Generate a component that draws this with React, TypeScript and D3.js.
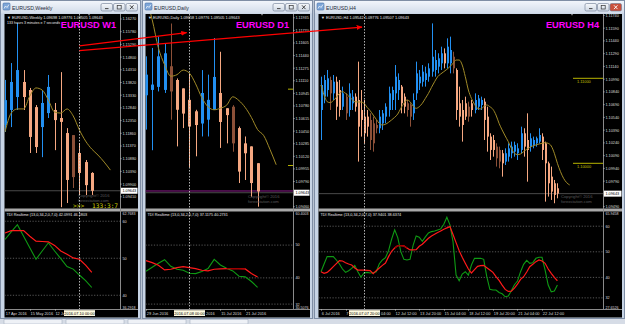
import React from "react";
import * as d3 from "d3";

// ================= DATA =================
// ---- W1 (weekly) ----
const w1Open = [1.1218, 1.1276, 1.1326, 1.1384, 1.1353, 1.1287, 1.121, 1.1264, 1.1276, 1.1245, 1.1187, 1.1179, 1.111, 1.1075, 1.1033];
const w1High = [1.1392, 1.1457, 1.1612, 1.143, 1.1361, 1.1295, 1.1353, 1.1411, 1.1303, 1.1422, 1.1206, 1.1179, 1.1148, 1.1083, 1.1036];
const w1Low = [1.1191, 1.121, 1.1276, 1.1276, 1.111, 1.111, 1.1094, 1.1245, 1.1121, 1.0901, 1.0917, 1.0975, 1.0948, 1.0948, 1.0948];
const w1Close = [1.1314, 1.1384, 1.143, 1.1326, 1.1172, 1.1133, 1.1303, 1.1365, 1.1237, 1.123, 1.1006, 1.1017, 1.1033, 1.0986, 1.0964];
const w1Ma = [1.1191, 1.1264, 1.128, 1.128, 1.133, 1.1361, 1.1353, 1.1314, 1.1268, 1.1264, 1.128, 1.1253, 1.1199, 1.1156, 1.1125, 1.1102, 1.1075, 1.1044];
const w1Dark = [11];
const w1Green = [55.07, 57.11, 59.07, 55.96, 52.84, 49.73, 51.96, 54.18, 51.96, 49.91, 47.78, 47.07, 45.47, 43.96, 42.1];
const w1Red = [56.84, 57.47, 57.47, 57.47, 55.96, 54.62, 54.53, 54.44, 53.47, 51.96, 51.07, 50.09, 49.73, 48.13, 46.18];
const w1PriceTicks = [1.1627, 1.1578, 1.1529, 1.148, 1.1431, 1.1382, 1.1333, 1.1284, 1.1235, 1.1186, 1.1137, 1.1088, 1.1039, 1.099, 1.0941, 1.0892];
const w1Levels = [60, 50, 40];
const w1Dates = [
  { i: 0, t: "17 Apr 2016" },
  { i: 4, t: "15 May 2016" },
  { i: 8, t: "12 Ju" },
];

// ---- D1 (daily) ----
const d1Open = [1.1092, 1.1099, 1.1103, 1.1099, 1.113, 1.1112, 1.1101, 1.1086, 1.1071, 1.1055, 1.106, 1.1073, 1.1095, 1.1075, 1.1077, 1.1049, 1.1029, 1.1025, 1.1003];
const d1High = [1.1143, 1.1154, 1.1169, 1.116, 1.1186, 1.1114, 1.1101, 1.1121, 1.1073, 1.1125, 1.1119, 1.1167, 1.1149, 1.1075, 1.1079, 1.1051, 1.1038, 1.1025, 1.1003];
const d1Low = [1.1047, 1.102, 1.1097, 1.1095, 1.106, 1.1025, 1.1049, 1.0998, 1.1012, 1.1038, 1.1038, 1.1073, 1.1023, 1.1029, 1.1018, 1.0977, 1.0981, 1.0959, 1.0946];
const d1Close = [1.1119, 1.1106, 1.1143, 1.1147, 1.1097, 1.1073, 1.1068, 1.1051, 1.1053, 1.1095, 1.1086, 1.1116, 1.1057, 1.1066, 1.1029, 1.0992, 1.1016, 1.0977, 1.0966];
const d1Ma = [1.1221, 1.1191, 1.1154, 1.1132, 1.1117, 1.1119, 1.1125, 1.1121, 1.1107, 1.1089, 1.1077, 1.1073, 1.1075, 1.1079, 1.109, 1.1085, 1.1076, 1.1063, 1.1047, 1.1039, 1.1021, 1.1001];
const d1Dark = [4, 14];
const d1Green = [42.02, 43.23, 44.44, 45.56, 43.54, 42.63, 42.32, 41.41, 41.31, 41.92, 42.83, 45.66, 43.94, 42.93, 42.12, 40.51, 40.3, 38.89, 37.12];
const d1Red = [45.25, 44.65, 43.84, 42.42, 42.63, 43.13, 43.43, 43.13, 42.83, 42.32, 42.12, 42.63, 42.73, 42.83, 42.83, 42.83, 42.73, 41.31, 40.27];
const d1RedDark = [13, 16];
const d1PriceTicks = [1.11935, 1.1177, 1.11605, 1.1144, 1.11275, 1.1111, 1.10945, 1.1078, 1.10615, 1.1045, 1.10285, 1.1012, 1.09955, 1.0979, 1.09625, 1.0946];
const d1Levels = [50, 40, 32];
const d1Dates = [
  { i: 0, t: "29 Jun 2016" },
  { i: 7, t: "2016", after: true },
  { i: 12, t: "15 Jul 2016" },
  { i: 16, t: "21 Jul 2016" },
];

// ---- H4 ----
const h4Open = [1.10627, 1.10784, 1.10862, 1.1098, 1.10823, 1.1096, 1.10862, 1.10666, 1.10784, 1.10627,
  1.10706, 1.10784, 1.10745, 1.10627, 1.10549, 1.10549, 1.1051, 1.1047, 1.10451, 1.10412,
  1.1047, 1.10549, 1.10627, 1.10745, 1.10823, 1.10862, 1.10902, 1.10784, 1.10706, 1.10686,
  1.10588, 1.10823, 1.10941, 1.1096, 1.1098, 1.11019, 1.11078, 1.11098, 1.11137, 1.11176,
  1.11294, 1.11176, 1.11176, 1.11254, 1.11098, 1.10706, 1.10627, 1.10706, 1.10666, 1.10706,
  1.10627, 1.10666, 1.10686, 1.10725, 1.10549, 1.10314, 1.10274, 1.10196, 1.10157, 1.10118,
  1.1002, 1.10078, 1.10118, 1.10137, 1.10118, 1.10157, 1.10353, 1.10274, 1.10196, 1.10216,
  1.10235, 1.10255, 1.10314, 1.10235, 1.1, 1.09843, 1.09765, 1.09706];
const h4High = [1.11019, 1.11039, 1.11098, 1.11019, 1.11039, 1.11019, 1.1098, 1.10902, 1.10823, 1.10941,
  1.10862, 1.10823, 1.11196, 1.10862, 1.10745, 1.10627, 1.10588, 1.10549, 1.1051, 1.10627,
  1.10627, 1.10706, 1.10902, 1.10902, 1.11156, 1.11058, 1.10921, 1.10823, 1.10745, 1.10706,
  1.10823, 1.11196, 1.11098, 1.11156, 1.11137, 1.11176, 1.11646, 1.11333, 1.11294, 1.11372,
  1.11352, 1.1147, 1.1149, 1.11313, 1.11117, 1.10902, 1.10745, 1.10784, 1.10725, 1.10745,
  1.10823, 1.10804, 1.10784, 1.10764, 1.10666, 1.10353, 1.10333, 1.10235, 1.10196, 1.10157,
  1.10176, 1.10235, 1.10255, 1.10255, 1.10235, 1.10431, 1.10412, 1.10588, 1.10353, 1.10314,
  1.10314, 1.10412, 1.10353, 1.10255, 1.1002, 1.09961, 1.09804, 1.09765];
const h4Low = [1.10274, 1.10706, 1.10784, 1.10627, 1.10745, 1.1051, 1.10549, 1.10627, 1.1051, 1.10549,
  1.10627, 1.10608, 1.1002, 1.10314, 1.10235, 1.10314, 1.10157, 1.10137, 1.10353, 1.10353,
  1.10392, 1.1047, 1.10549, 1.10627, 1.10627, 1.10745, 1.10588, 1.10588, 1.10549, 1.10431,
  1.1051, 1.10745, 1.10862, 1.10902, 1.10902, 1.1096, 1.11019, 1.11019, 1.11058, 1.11098,
  1.11117, 1.11117, 1.11058, 1.11058, 1.1051, 1.10431, 1.10255, 1.1051, 1.1049, 1.10549,
  1.10588, 1.10627, 1.10627, 1.10274, 1.10137, 1.10039, 1.10078, 1.09961, 1.09941, 1.09843,
  1.0998, 1.1002, 1.10059, 1.10078, 1.10039, 1.10118, 1.10078, 1.09784, 1.10137, 1.10176,
  1.10196, 1.10235, 1.10039, 1.09549, 1.09608, 1.09569, 1.0953, 1.09588];
const h4Close = [1.10921, 1.1098, 1.11, 1.10823, 1.1096, 1.10666, 1.10627, 1.10823, 1.10588, 1.10823,
  1.10784, 1.10666, 1.10431, 1.1051, 1.10353, 1.10431, 1.10274, 1.10235, 1.10412, 1.10549,
  1.10588, 1.10666, 1.10823, 1.10862, 1.11019, 1.1098, 1.10706, 1.10666, 1.10627, 1.10549,
  1.10745, 1.11058, 1.11019, 1.11078, 1.11058, 1.11117, 1.11254, 1.11215, 1.11235, 1.11294,
  1.11176, 1.11372, 1.11333, 1.11117, 1.10627, 1.10549, 1.10451, 1.10549, 1.10549, 1.10627,
  1.10745, 1.10764, 1.10745, 1.1051, 1.10314, 1.10157, 1.10157, 1.10059, 1.1002, 1.1,
  1.10118, 1.10176, 1.10196, 1.10216, 1.10176, 1.10353, 1.10196, 1.10157, 1.10294, 1.10274,
  1.10294, 1.10333, 1.10157, 1.1, 1.09765, 1.09667, 1.09628, 1.09643];
const h4Ma = [1.10921, 1.10804, 1.10725, 1.10713, 1.10737, 1.10776, 1.10823, 1.10843, 1.10823, 1.10792,
  1.10753, 1.10725, 1.10721, 1.10721, 1.10706, 1.10659, 1.10619, 1.10568, 1.10517, 1.1047,
  1.10451, 1.10459, 1.10482, 1.1051, 1.10541, 1.1058, 1.10647, 1.10706, 1.10745, 1.10725,
  1.10674, 1.10647, 1.10666, 1.10706, 1.10764, 1.10823, 1.10894, 1.1096, 1.11019, 1.11051,
  1.11078, 1.11105, 1.11137, 1.11176, 1.11215, 1.11215, 1.11156, 1.11019, 1.10862, 1.10764,
  1.10694, 1.10647, 1.10639, 1.10666, 1.10686, 1.10666, 1.10635, 1.10568, 1.1047, 1.10392,
  1.10321, 1.10255, 1.10176, 1.10118, 1.10102, 1.1011, 1.10137, 1.10165, 1.10188, 1.10204,
  1.10216, 1.10227, 1.10235, 1.10243, 1.10235, 1.10204, 1.10118, 1.1, 1.09902, 1.09824,
  1.09773, 1.09745];
const h4Dark = [3, 8, 16, 17, 18, 28, 29, 43, 48, 57, 58];
const h4Green = [42.23, 45.23, 48.11, 48.11, 48.11, 46.8, 45.23, 43.27, 41.97, 42.62,
  43.54, 44.71, 42.23, 40.14, 41.71, 41.97, 41.71, 41.84, 42.23, 45.36,
  46.8, 47.71, 50.46, 54.9, 58.56, 55.55, 50.07, 47.06, 46.8, 47.06,
  52.55, 56.21, 55.68, 54.12, 55.81, 57.38, 57.9, 58.16, 58.56, 58.95,
  60.78, 63.52, 60.52, 53.98, 40.92, 38.7, 41.31, 42.23, 40.92, 44.84,
  47.45, 47.45, 47.45, 47.06, 40.27, 35.31, 35.05, 35.05, 34.13, 33.61,
  32.43, 32.69, 34.78, 37.13, 38.57, 42.23, 45.1, 46.67, 45.5, 45.75,
  47.45, 47.85, 47.85, 42.88, 37.0, 34.39, 34.65, 37.0];
const h4Red = [42.23, 41.58, 41.97, 43.01, 44.19, 45.36, 46.54, 46.41, 45.75, 45.23,
  44.84, 43.67, 42.88, 42.88, 42.88, 42.75, 42.62, 41.44, 42.62, 43.67,
  44.71, 45.63, 48.11, 50.2, 51.5, 52.42, 52.42, 52.29, 51.5, 50.72,
  50.72, 50.85, 52.16, 52.94, 54.12, 55.29, 56.21, 56.86, 57.51, 58.16,
  58.82, 59.34, 59.86, 56.73, 53.59, 50.46, 47.85, 45.5, 43.27, 41.71,
  43.01, 44.32, 44.58, 44.71, 43.8, 42.88, 41.97, 40.27, 38.83, 37.0,
  35.31, 34.52, 34.65, 35.83, 37.4, 39.23, 40.27, 42.1, 44.19, 45.1,
  46.15, 46.8, 46.41, 45.5, 43.27, 41.58, 40.01, 38.7];
const h4RedDark = [24, 28];
const h4PriceTicks = [1.1174, 1.1159, 1.1144, 1.1129, 1.1114, 1.1099, 1.1084, 1.1069, 1.1054, 1.1039, 1.1024, 1.1009, 1.0994, 1.0979, 1.0964, 1.0949];
const h4Levels = [60, 50, 40, 32];
const h4Dates = [
  { i: 0, t: "6 Jul 2016" },
  { i: 8, t: "7" },
  { i: 14, t: "04:00", after: true },
  { i: 24, t: "12 Jul 12:00" },
  { i: 32, t: "13 Jul 20:00" },
  { i: 40, t: "15 Jul 04:00" },
  { i: 48, t: "18 Jul 12:00" },
  { i: 56, t: "19 Jul 20:00" },
  { i: 64, t: "21 Jul 04:00" },
  { i: 72, t: "22 Jul 12:00" },
];
const roundLevels = [1.11, 1.1];
const bidPrice = 1.09643;

// ================= STYLE / LAYOUT =================
const FONT = "'Liberation Sans', Arial, sans-serif";
const BULL = "#2290f2";
const BEAR = "#f6a882";
const DARK = "#8c5038";
const MA_COL = "#a08a28";
const TOP = 14;
const PB = 208.5;
const IT = 211.5;
const IB = 309;
const DB = 317.5;

function Candles({ o, h, l, c, x, y, bw, dark }: any) {
  return (
    <g>
      {o.map((_: number, i: number) => {
        const up = c[i] >= o[i];
        const col = dark.includes(i) ? DARK : up ? BULL : BEAR;
        const px = Math.round(x(i));
        const top = y(Math.max(o[i], c[i]));
        const bot = y(Math.min(o[i], c[i]));
        return (
          <g key={i}>
            <line x1={px + 0.5} x2={px + 0.5} y1={y(h[i])} y2={y(l[i])} stroke={col} strokeWidth={1} />
            <rect x={bw === 3 ? px - 1 : px} y={top} width={bw} height={Math.max(1, bot - top)} fill={col} />
          </g>
        );
      })}
    </g>
  );
}

function Frame({ x, w, title, closeRed }: any) {
  const bx = x + w - 40;
  return (
    <g>
      <rect x={x + 0.5} y={0.5} width={w - 1} height={318} fill="#c7d4e5" stroke="#7f8ea5" />
      <rect x={x + 1} y={1} width={w - 2} height={12.5} fill="url(#titleGrad)" />
      <rect x={x + 3} y={3} width={7} height={7} rx={1} fill="#7ea6d8" stroke="#4a72a8" strokeWidth={0.6} />
      <path d={`M${x + 4},8.5 L${x + 5.5},6 L${x + 7},7.5 L${x + 9},4.5`} stroke="#fff" fill="none" strokeWidth={0.7} />
      <text x={x + 12} y={9.6} fontSize={5.2} fill="#1e2b3c" fontFamily={FONT}>{title}</text>
      {[0, 1, 2].map((k) => (
        <rect key={k} x={bx + k * 12.5} y={3.5} width={11.5} height={7.5} rx={1.5}
          fill={k === 2 && closeRed ? "#c9503c" : "url(#btnGrad)"} stroke="#6b7890" strokeWidth={0.6} />
      ))}
      <line x1={bx + 4} x2={bx + 7.5} y1={8.6} y2={8.6} stroke="#333" strokeWidth={0.9} />
      <rect x={bx + 16.2} y={5.4} width={4} height={3.6} fill="none" stroke="#333" strokeWidth={0.7} />
      <path d={`M${bx + 29},5.3 L${bx + 32.5},9.1 M${bx + 32.5},5.3 L${bx + 29},9.1`} stroke={closeRed ? "#fff" : "#333"} strokeWidth={0.9} />
    </g>
  );
}

function ChartWindow(p: any) {
  const {
    id, fx, fw, title, closeRed, chartL, axisX, axisR, xs, ys, ts,
    o, h, l, c, ma, dark, bw, green, red, redDark, priceTicks, levels,
    indTitle, info, info2, tag, dates, box, cursorI, showRound, roundX0, purple, watermarkX, watermarkY, timer,
  } = p;
  const maLine = d3.line<number>().x((_, i) => xs(i)).y((d) => ys(d)).curve(d3.curveMonotoneX);
  const tdiLine = d3.line<number>().x((_, i) => xs(i)).y((d) => ts(d));
  const redDarkPts = red.slice(redDark[0], redDark[1] + 1);
  const redDarkLine = d3.line<number>().x((_, i) => xs(i + redDark[0])).y((d) => ts(d));
  const cx = Math.round(xs(cursorI)) + 0.5;
  const bidY = ys(bidPrice);
  const [tMin, tMax] = ts.domain();
  const boxW = 31;
  return (
    <g>
      <Frame x={fx} w={fw} title={title} closeRed={closeRed} />
      <defs>
        <clipPath id={`pc-${id}`}><rect x={chartL} y={TOP} width={axisX - chartL} height={PB - TOP} /></clipPath>
        <clipPath id={`ic-${id}`}><rect x={chartL} y={IT} width={axisX - chartL} height={IB - IT} /></clipPath>
      </defs>
      <rect x={chartL} y={TOP} width={axisR - chartL} height={DB - TOP} fill="#000" />
      {/* price pane */}
      <g clipPath={`url(#pc-${id})`}>
        {showRound && roundLevels.map((r: number) => (
          <g key={r}>
            <line x1={roundX0} x2={axisX} y1={ys(r)} y2={ys(r)} stroke="#b8b400" strokeWidth={1} />
            {axisX - roundX0 > 10 && (
              <text x={roundX0 + 4} y={ys(r) + 4.6} fontSize={3.9} fill="#c8c400" fontFamily={FONT}>{r.toFixed(5)}</text>
            )}
          </g>
        ))}
        {purple && <line x1={chartL} x2={axisX} y1={ys(purple)} y2={ys(purple)} stroke="#8e1e8e" strokeWidth={1} />}
        <line x1={chartL} x2={axisX} y1={bidY} y2={bidY} stroke="#4a4a4a" strokeWidth={1} />
        <Candles o={o} h={h} l={l} c={c} x={xs} y={ys} bw={bw} dark={dark} />
        <path d={maLine(ma) || ""} fill="none" stroke={MA_COL} strokeWidth={1} />
        <text x={watermarkX} y={watermarkY} fontSize={4.2} fill="#5a5a5a" fontFamily={FONT}>Copyright© 2016</text>
        <text x={watermarkX} y={watermarkY + 5.2} fontSize={4.2} fill="#5a5a5a" fontFamily={FONT}>forexstation.com</text>
        {timer && (
          <g>
            <text x={timer[0]} y={208} fontSize={6.2} fill="#d2d200" fontFamily="'DejaVu Sans Mono', monospace">&gt;&gt;&gt;</text>
            <text x={timer[1]} y={208} fontSize={6.2} fill="#d2d200" fontFamily="'DejaVu Sans Mono', monospace">133:3:7</text>
          </g>
        )}
      </g>
      <text x={chartL + 2.5} y={18.8} fontSize={3.9} fill="#e8e8e8" fontFamily={FONT}>{info}</text>
      {info2 && <text x={chartL + 2.5} y={24.4} fontSize={3.6} fill="#e8e8e8" fontFamily={FONT}>{info2}</text>}
      <text x={axisX - 4} y={27.5} fontSize={9.2} fontWeight="bold" fill="#ff00ff" textAnchor="end" fontFamily={FONT}>{tag}</text>
      {/* indicator pane */}
      <g clipPath={`url(#ic-${id})`}>
        {levels.map((lv: number) => (
          <line key={lv} x1={chartL} x2={axisX} y1={ts(lv)} y2={ts(lv)} stroke="#6e6e6e" strokeWidth={0.8} strokeDasharray="1.2,1.6" />
        ))}
        <path d={tdiLine(green) || ""} fill="none" stroke="#0f9a14" strokeWidth={1.1} />
        <path d={tdiLine(red) || ""} fill="none" stroke="#ff1a1a" strokeWidth={1.2} />
        <path d={redDarkLine(redDarkPts) || ""} fill="none" stroke="#a00000" strokeWidth={1.3} />
      </g>
      <text x={chartL + 2} y={216.2} fontSize={3.8} fill="#e8e8e8" fontFamily={FONT}>{indTitle}</text>
      {/* separators and axes */}
      <rect x={chartL} y={PB} width={axisR - chartL} height={IT - PB} fill="#a8a8a8" />
      <line x1={axisX + 0.5} x2={axisX + 0.5} y1={TOP} y2={IB} stroke="#8a8a8a" strokeWidth={1} />
      <line x1={chartL} x2={axisR} y1={IB + 0.5} y2={IB + 0.5} stroke="#8a8a8a" strokeWidth={1} />
      {priceTicks.map((t: number) => {
        const yy = ys(t);
        if (yy < TOP + 1 || yy > PB - 1) return null;
        if (Math.abs(yy - bidY) < 5) return null;
        return (
          <g key={t}>
            <line x1={axisX} x2={axisX + 1.8} y1={yy} y2={yy} stroke="#bbb" strokeWidth={0.6} />
            <text x={axisX + 2.4} y={yy + 1.4} fontSize={3.8} fill="#dcdcdc" fontFamily={FONT}>{t.toFixed(5)}</text>
          </g>
        );
      })}
      <rect x={axisX + 1} y={bidY - 3} width={axisR - axisX - 1.5} height={6} fill="#fff" />
      <text x={axisX + 2.4} y={bidY + 1.4} fontSize={3.8} fill="#000" fontFamily={FONT}>{bidPrice.toFixed(5)}</text>
      {levels.map((lv: number) => (
        <text key={lv} x={axisX + 2.4} y={ts(lv) + 1.4} fontSize={3.8} fill="#dcdcdc" fontFamily={FONT}>{lv}</text>
      ))}
      <text x={axisX + 2.4} y={IT + 3.4} fontSize={3.6} fill="#dcdcdc" fontFamily={FONT}>{tMax.toFixed(4)}</text>
      <text x={axisX + 2.4} y={IB - 0.2} fontSize={3.6} fill="#dcdcdc" fontFamily={FONT}>{tMin.toFixed(4)}</text>
      {/* cursor dashed line */}
      <line x1={cx} x2={cx} y1={TOP} y2={IB} stroke="#e0e0e0" strokeWidth={0.8} strokeDasharray="1.5,1.5" />
      {/* date axis */}
      {dates.map((d: any) => {
        const lx = d.after ? cx + boxW / 2 + 1 : xs(d.i) + 0.8;
        return (
          <g key={d.t}>
            {!d.after && <line x1={Math.round(xs(d.i)) + 0.5} x2={Math.round(xs(d.i)) + 0.5} y1={IB} y2={IB + 1.8} stroke="#bbb" strokeWidth={0.6} />}
            <text x={lx} y={314.6} fontSize={3.9} fill="#dcdcdc" fontFamily={FONT}>{d.t}</text>
          </g>
        );
      })}
      <rect x={cx - boxW / 2} y={310.2} width={boxW} height={5.8} fill="#fffbe0" />
      <text x={cx} y={314.6} fontSize={3.9} fill="#000" textAnchor="middle" fontFamily={FONT}>{box}</text>
      <path d={`M${axisX - 32},${TOP} l2,0 l-1,1.8 z`} fill="#9a9a9a" />
    </g>
  );
}

export default function App() {
  const xW1 = d3.scaleLinear().domain([0, 14]).range([5, 91.8]);
  const yW1 = d3.scaleLinear().domain([1.0941, 1.1627]).range([196.8, 19]);
  const tW1 = d3.scaleLinear().domain([36.2918, 62.7683]).range([IB, 211]);

  const xD1 = d3.scaleLinear().domain([0, 18]).range([146, 257.6]);
  const yD1 = d3.scaleLinear().domain([1.0946, 1.11935]).range([206.7, 17.8]);
  const tD1 = d3.scaleLinear().domain([30.5076, 60.4003]).range([IB, 211]);

  const xH4 = d3.scaleLinear().domain([0, 77]).range([321, 557.4]);
  const yH4 = d3.scaleLinear().domain([1.1, 1.11]).range([163.3, 78.3]);
  const tH4 = d3.scaleLinear().domain([27.6526, 65.9458]).range([IB, 211]);

  // annotation arrows (anchored in bar index / price of each chart)
  const a1 = [xW1(12), yW1(1.1523), xD1(6.56), yD1(1.1174)];
  const a2 = [xW1(12), yW1(1.1505), xH4(13.36), yH4(1.11603)];

  return (
    <svg width={625} height={324} style={{ position: "absolute", left: 0, top: 0, display: "block" }}>
      <defs>
        <linearGradient id="titleGrad" x1="0" y1="0" x2="0" y2="1">
          <stop offset="0" stopColor="#f1f5fb" />
          <stop offset="1" stopColor="#d2dcea" />
        </linearGradient>
        <linearGradient id="btnGrad" x1="0" y1="0" x2="0" y2="1">
          <stop offset="0" stopColor="#f6f8fb" />
          <stop offset="1" stopColor="#cfd8e4" />
        </linearGradient>
        <marker id="arr" viewBox="0 0 10 10" refX="9" refY="5" markerWidth="5" markerHeight="5" orient="auto">
          <path d="M0,1 L10,5 L0,9 z" fill="#ff0000" />
        </marker>
      </defs>
      <rect x={0} y={0} width={625} height={324} fill="#b9c4d3" />
      <ChartWindow id="w1" fx={0} fw={141} title="EURUSD,Weekly" chartL={4.5} axisX={120} axisR={138}
        xs={xW1} ys={yW1} ts={tW1} o={w1Open} h={w1High} l={w1Low} c={w1Close} ma={w1Ma} dark={w1Dark} bw={3}
        green={w1Green} red={w1Red} redDark={[0, 0]} priceTicks={w1PriceTicks} levels={w1Levels}
        indTitle="TDI Realtime (13,0,34,2,0,7,0) 42.0991 46.1803"
        info="▼ EURUSD,Weekly  1.09698 1.09776 1.09505 1.09643"
        info2="133 hours 3 minutes e 7 seconds"
        tag="EURUSD W1" dates={w1Dates} box="2016.07.10 00:00" cursorI={12} showRound={false}
        watermarkX={78} watermarkY={196.5} timer={[73, 92]} />
      <ChartWindow id="d1" fx={142} fw={171} title="EURUSD,Daily" chartL={145.5} axisX={293} axisR={310}
        xs={xD1} ys={yD1} ts={tD1} o={d1Open} h={d1High} l={d1Low} c={d1Close} ma={d1Ma} dark={d1Dark} bw={3}
        green={d1Green} red={d1Red} redDark={d1RedDark} priceTicks={d1PriceTicks} levels={d1Levels}
        indTitle="TDI Realtime (13,0,34,2,0,7,0) 37.1175 40.2731"
        info="▼ EURUSD,Daily  1.09658 1.09776 1.09505 1.09643"
        tag="EURUSD D1" dates={d1Dates} box="2016.07.08 00:00" cursorI={7} showRound={true} roundX0={288}
        purple={1.09666} watermarkX={248} watermarkY={198} />
      <ChartWindow id="h4" fx={314} fw={311} title="EURUSD,H4" closeRed={true} chartL={318.5} axisX={603} axisR={622}
        xs={xH4} ys={yH4} ts={tH4} o={h4Open} h={h4High} l={h4Low} c={h4Close} ma={h4Ma} dark={h4Dark} bw={2}
        green={h4Green} red={h4Red} redDark={h4RedDark} priceTicks={h4PriceTicks} levels={h4Levels}
        indTitle="TDI Realtime (13,0,34,2,0,7,0) 37.9401 38.6374"
        info="▼ EURUSD,H4  1.09542 1.09776 1.09507 1.09643"
        tag="EURUSD H4" dates={h4Dates} box="2016.07.07 20:00" cursorI={14} showRound={true} roundX0={573}
        watermarkX={561} watermarkY={198} />
      {/* bottom tab bar */}
      <rect x={0} y={319} width={625} height={5} fill="#d6dce6" />
      {[0, 1, 2, 3].map((k) => (
        <rect key={k} x={4 + k * 62} y={319.5} width={58} height={4.5} fill="#eef1f6" stroke="#9aa6b8" strokeWidth={0.5} />
      ))}
      {/* red annotation arrows */}
      <line x1={a1[0]} y1={a1[1]} x2={a1[2]} y2={a1[3]} stroke="#ff0000" strokeWidth={1.2} markerEnd="url(#arr)" />
      <line x1={a2[0]} y1={a2[1]} x2={a2[2]} y2={a2[3]} stroke="#ff0000" strokeWidth={1.2} markerEnd="url(#arr)" />
    </svg>
  );
}
